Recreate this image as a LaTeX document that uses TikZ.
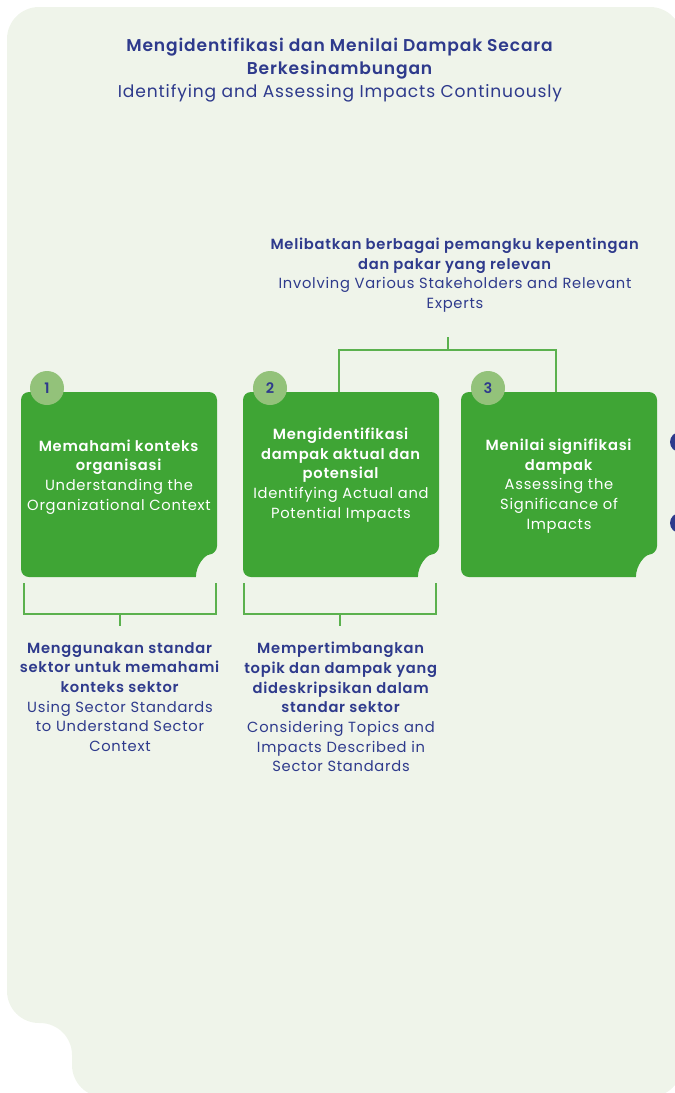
\documentclass[tikz,border=0pt]{standalone}
\usepackage{fontspec}
\setmainfont{Poppins}[LetterSpace=5, BoldFont={Poppins SemiBold}]
\definecolor{bgpanel}{HTML}{EFF4EA}
\definecolor{cardgreen}{HTML}{3FA535}
\definecolor{badgegreen}{HTML}{93C27A}
\definecolor{navy}{HTML}{2E3A8C}
\definecolor{linkgreen}{HTML}{5BB14E}

% card with rounded corners and a round notch at the lower right
\newcommand{\stepcard}[1]{%
  \fill[cardgreen, rounded corners=8] (#1,392) -- (#1+196,392) -- (#1+196,554)
    {[sharp corners] arc[start angle=265, end angle=180, radius=23.1]} -- (#1,577) -- cycle;}

\begin{document}
\begin{tikzpicture}[x=1pt, y=-1pt,
  link/.style={draw=linkgreen, line width=1.3pt},
  titletext/.style={align=center, text=navy, font=\fontsize{17.1}{23}\selectfont},
  sidetext/.style={align=center, text=navy, font=\fontsize{14.7}{19.7}\selectfont},
  cardtext/.style={align=center, text=white, font=\fontsize{14.7}{19.7}\selectfont},
  badge/.style={circle, fill=badgegreen, minimum size=34pt, inner sep=0pt,
    text=navy, font=\fontsize{14.5}{16}\selectfont\bfseries},
  dot/.style={fill=navy}]
\useasboundingbox (0,0) rectangle (675,1093);
\clip (0,0) rectangle (675,1093);

% panel
\fill[bgpanel, rounded corners=32] (7,500) -- (7,7) -- (682,7) -- (682,1097)
  -- (72,1097) -- (72,1023) -- (7,1023) -- cycle;

% heading
\node[titletext] (title) at (340,70)
  {\textbf{Mengidentifikasi dan Menilai Dampak Secara}\\
   \textbf{Berkesinambungan}\\
   Identifying and Assessing Impacts Continuously};

% stakeholders note
\node[sidetext] (involve) at (455,275)
  {\textbf{Melibatkan berbagai pemangku kepentingan}\\
   \textbf{dan pakar yang relevan}\\
   Involving Various Stakeholders and Relevant\\
   Experts};

% cards
\stepcard{21}
\stepcard{243}
\stepcard{461}

\node[cardtext] (card1) at (119,477)
  {\textbf{Memahami konteks}\\
   \textbf{organisasi}\\
   Understanding the\\
   Organizational Context};
\node[cardtext] (card2) at (341,475)
  {\textbf{Mengidentifikasi}\\
   \textbf{dampak aktual dan}\\
   \textbf{potensial}\\
   Identifying Actual and\\
   Potential Impacts};
\node[cardtext] (card3) at (559,486)
  {\textbf{Menilai signifikasi}\\
   \textbf{dampak}\\
   Assessing the\\
   Significance of\\
   Impacts};

\node[badge] (b1) at (47,388) {1};
\node[badge] (b2) at (270,388) {2};
\node[badge] (b3) at (488,388) {3};

% notes under the cards
\node[sidetext] (note1) at (120,697)
  {\textbf{Menggunakan standar}\\
   \textbf{sektor untuk memahami}\\
   \textbf{konteks sektor}\\
   Using Sector Standards\\
   to Understand Sector\\
   Context};
\node[sidetext] (note2) at (341,707)
  {\textbf{Mempertimbangkan}\\
   \textbf{topik dan dampak yang}\\
   \textbf{dideskripsikan dalam}\\
   \textbf{standar sektor}\\
   Considering Topics and\\
   Impacts Described in\\
   Sector Standards};

% bracket joining cards 2 and 3 to the stakeholders note
\coordinate (invtap) at (448,337);
\coordinate (invbar) at (448,350);
\coordinate (c2tap) at (339,392);
\coordinate (c3tap) at (556,392);
\draw[link] (invtap) -- (invbar);
\draw[link] (c2tap) |- (invbar) -| (c3tap);

% brackets under cards 1 and 2
\coordinate (c1l) at (24,583);
\coordinate (c1r) at (216,583);
\coordinate (s1) at (120,614);
\coordinate (s1tip) at (120,626);
\draw[link] (c1l) |- (s1) -| (c1r);
\draw[link] (s1) -- (s1tip);

\coordinate (c2l) at (244,583);
\coordinate (c2r) at (436,583);
\coordinate (s2) at (340,614);
\coordinate (s2tip) at (340,626);
\draw[link] (c2l) |- (s2) -| (c2r);
\draw[link] (s2) -- (s2tip);

% markers on the right edge
\fill[dot] (680,442) circle[radius=10];
\fill[dot] (680,523) circle[radius=10];
\end{tikzpicture}
\end{document}
